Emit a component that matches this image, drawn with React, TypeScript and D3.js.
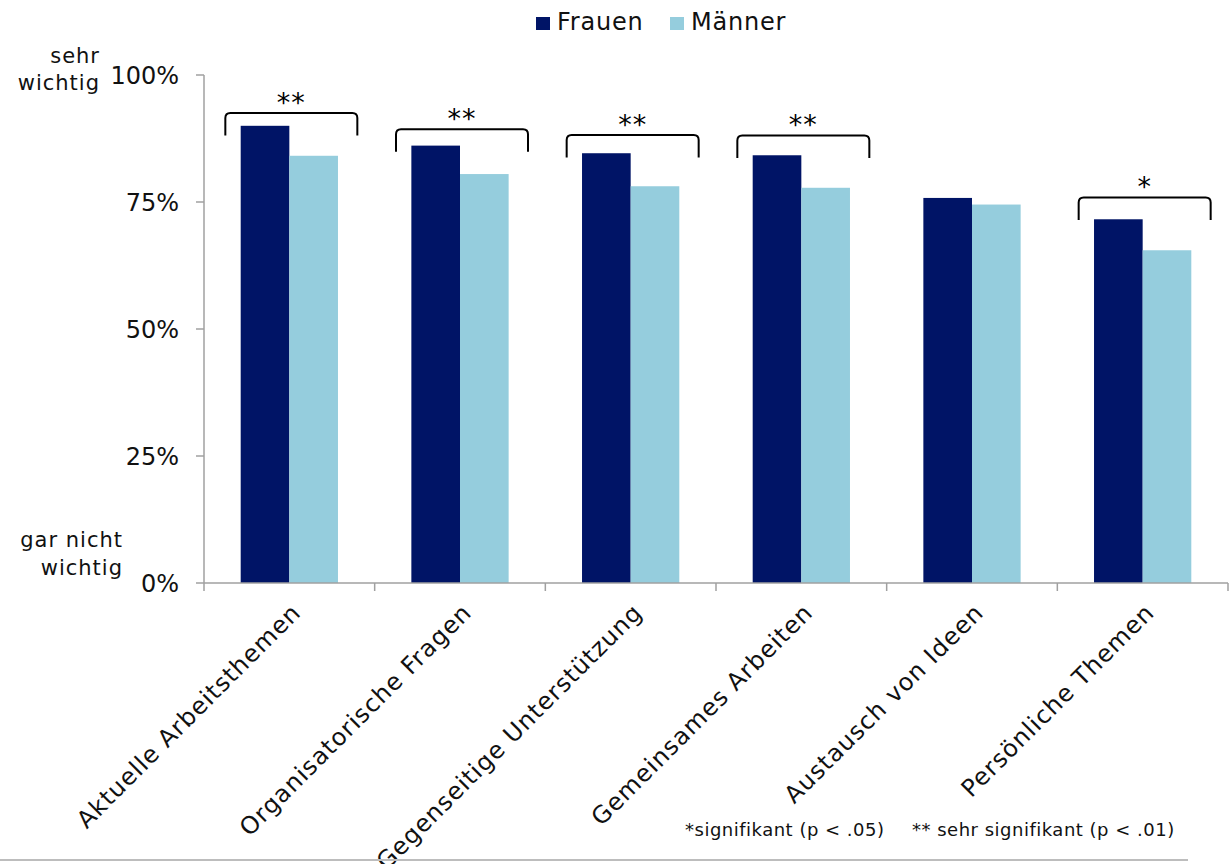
import React from "react";
import * as d3 from "d3";

const categories = [
  "Aktuelle Arbeitsthemen",
  "Organisatorische Fragen",
  "Gegenseitige Unterstützung",
  "Gemeinsames Arbeiten",
  "Austausch von Ideen",
  "Persönliche Themen",
];
const seriesNames = ["Frauen", "Männer"];
const frauen = [0.90, 0.861, 0.846, 0.842, 0.758, 0.716];
const maenner = [0.841, 0.805, 0.781, 0.778, 0.745, 0.655];
const significance = ["**", "**", "**", "**", "", "*"];
const bracketLevel = [0.925, 0.893, 0.882, 0.881, 0, 0.759];
const yTicks = [0, 0.25, 0.5, 0.75, 1];
const footnotes = ["*signifikant (p < .05)", "** sehr signifikant (p < .01)"];

const COLORS = ["#001466", "#95cddd"];
const FONT = "'DejaVu Sans', sans-serif";
const TEXT = "#111";
const AXIS = "#a0a0a0";

export default function App() {
  const W = 1231;
  const H = 864;
  const y = d3.scaleLinear().domain([0, 1]).range([583, 75]);
  const x = d3.scaleBand<string>().domain(categories).range([204, 1228]).padding(0);
  const bw = x.bandwidth();
  const x1 = d3.scaleBand<string>().domain(seriesNames).range([bw * 0.215, bw * 0.785]).padding(0);
  const values = [frauen, maenner];

  const bracketPath = (cx: number, level: number) => {
    const xl = cx - 66;
    const xr = cx + 66;
    const yt = y(level);
    const yb = yt + 22.5;
    const r = 5;
    return `M${xl},${yb} L${xl},${yt + r} Q${xl},${yt} ${xl + r},${yt} L${xr - r},${yt} Q${xr},${yt} ${xr},${yt + r} L${xr},${yb}`;
  };

  return (
    <div style={{ position: "absolute", left: 0, top: 0 }}>
      <svg width={W} height={H} style={{ display: "block", background: "#fff" }} fontFamily={FONT}>
        {/* legend */}
        {seriesNames.map((s, i) => {
          const lx = i === 0 ? 536 : 670;
          return (
            <g key={s}>
              <rect x={lx} y={17} width={14} height={13} fill={COLORS[i]} />
              <text x={lx + 21} y={30} fontSize={24} letterSpacing={0.8} fill={TEXT}>{s}</text>
            </g>
          );
        })}

        {/* bars */}
        {categories.map((c, ci) => (
          <g key={c} transform={`translate(${x(c)},0)`}>
            {seriesNames.map((s, si) => (
              <rect
                key={s}
                x={x1(s)}
                y={y(values[si][ci])}
                width={x1.bandwidth()}
                height={y(0) - y(values[si][ci])}
                fill={COLORS[si]}
              />
            ))}
          </g>
        ))}

        {/* y axis */}
        <line x1={204} x2={204} y1={y(1)} y2={y(0)} stroke={AXIS} strokeWidth={1.5} />
        {yTicks.map((t) => (
          <g key={t}>
            <line x1={196} x2={204} y1={y(t)} y2={y(t)} stroke={AXIS} strokeWidth={1.5} />
            <text x={179} y={y(t)} dy="0.38em" textAnchor="end" fontSize={24} fill={TEXT}>
              {d3.format(".0%")(t)}
            </text>
          </g>
        ))}
        <text x={100} y={63} textAnchor="end" fontSize={21} letterSpacing={1} fill={TEXT}>sehr</text>
        <text x={100} y={90} textAnchor="end" fontSize={21} letterSpacing={1} fill={TEXT}>wichtig</text>
        <text x={123} y={547} textAnchor="end" fontSize={21} letterSpacing={1} fill={TEXT}>gar nicht</text>
        <text x={123} y={575} textAnchor="end" fontSize={21} letterSpacing={1} fill={TEXT}>wichtig</text>

        {/* x axis */}
        <line x1={204} x2={1228} y1={y(0)} y2={y(0)} stroke={AXIS} strokeWidth={1.5} />
        {categories.map((c) => (
          <line key={c} x1={x(c)!} x2={x(c)!} y1={y(0)} y2={y(0) + 8} stroke={AXIS} strokeWidth={1.5} />
        ))}
        <line x1={1228} x2={1228} y1={y(0)} y2={y(0) + 8} stroke={AXIS} strokeWidth={1.5} />
        {categories.map((c) => {
          const cx = x(c)! + bw / 2 + 13;
          const cy = 614;
          return (
            <text
              key={c}
              transform={`translate(${cx},${cy}) rotate(-45)`}
              textAnchor="end"
              fontSize={24}
              letterSpacing={1}
              fill={TEXT}
            >
              {c}
            </text>
          );
        })}

        {/* significance brackets */}
        {categories.map((c, ci) =>
          significance[ci] ? (
            <g key={c}>
              <path d={bracketPath(x(c)! + bw / 2 + 2, bracketLevel[ci])} fill="none" stroke="#000" strokeWidth={2} />
              <text
                x={x(c)! + bw / 2 + 2}
                y={y(bracketLevel[ci]) - 1}
                textAnchor="middle"
                fontSize={27}
                letterSpacing={1}
                fill="#000"
              >
                {significance[ci]}
              </text>
            </g>
          ) : null
        )}

        {/* footnotes */}
        <text x={685} y={836} fontSize={18} letterSpacing={0.5} fill={TEXT}>{footnotes[0]}</text>
        <text x={912} y={836} fontSize={18} letterSpacing={0.5} fill={TEXT}>{footnotes[1]}</text>
        <line x1={0} x2={1188} y1={860} y2={860} stroke="#bdbdbd" strokeWidth={2} />
      </svg>
    </div>
  );
}
